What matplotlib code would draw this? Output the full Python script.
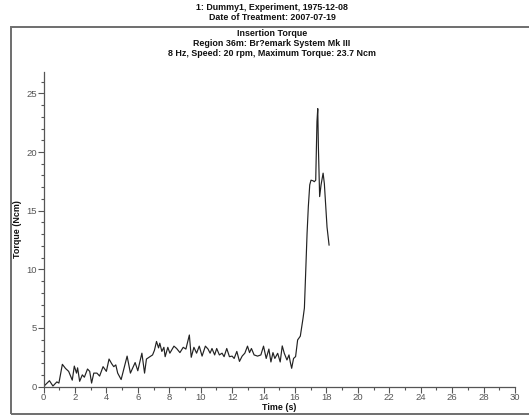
import matplotlib
matplotlib.use("Agg")
import matplotlib.pyplot as plt
from matplotlib.patches import Rectangle
from matplotlib.ticker import MultipleLocator

FONT = ['Liberation Sans', 'DejaVu Sans']
plt.rcParams['font.family'] = FONT

header_lines = ["1: Dummy1, Experiment, 1975-12-08", "Date of Treatment: 2007-07-19"]
title_lines = ["Insertion Torque", "Region 36m: Br?emark System Mk III",
               "8 Hz, Speed: 20 rpm, Maximum Torque: 23.7 Ncm"]
x_label = "Time (s)"
y_label = "Torque (Ncm)"

time_s = [0.0, 0.38, 0.6, 0.85, 0.98, 1.2, 1.4, 1.6, 1.83, 1.96, 2.1, 2.17, 2.3, 2.47, 2.6,
          2.8, 2.94, 3.06, 3.2, 3.4, 3.57, 3.79, 4.0, 4.17, 4.34, 4.47, 4.6, 4.72, 4.94,
          5.32, 5.53, 5.83, 6.0, 6.26, 6.43, 6.55, 6.77, 6.94, 7.06, 7.19, 7.32, 7.4,
          7.53, 7.66, 7.74, 7.91, 8.04, 8.3, 8.47, 8.68, 8.89, 9.06, 9.28, 9.4, 9.57,
          9.74, 9.91, 10.09, 10.3, 10.47, 10.6, 10.72, 10.89, 11.02, 11.19, 11.36,
          11.49, 11.66, 11.83, 12.0, 12.13, 12.3, 12.47, 12.64, 12.81, 12.98, 13.11,
          13.23, 13.4, 13.62, 13.83, 14.0, 14.17, 14.34, 14.47, 14.6, 14.72, 14.9,
          15.06, 15.19, 15.32, 15.49, 15.62, 15.7, 15.79, 15.91, 16.04, 16.17, 16.34,
          16.51, 16.6, 16.68, 16.77, 16.85, 16.94, 17.02, 17.15, 17.23, 17.32, 17.4,
          17.45, 17.49, 17.57, 17.66, 17.79, 17.87, 17.96, 18.04, 18.17]
torque_ncm = [0.0, 0.5, 0.05, 0.4, 0.3, 1.9, 1.55, 1.3, 0.55, 1.75, 1.15, 1.6, 0.45, 1.0, 0.8,
              1.5, 1.3, 0.3, 1.15, 1.15, 0.9, 1.7, 1.3, 2.35, 1.95, 1.7, 1.85, 1.15, 0.6,
              2.6, 1.15, 2.05, 1.35, 2.85, 1.15, 2.35, 2.55, 2.7, 3.1, 3.85, 3.3, 3.7,
              3.0, 3.35, 2.55, 3.35, 2.85, 3.45, 3.25, 2.9, 3.35, 3.2, 4.4, 2.5, 3.35,
              2.85, 3.45, 2.6, 3.45, 3.2, 2.85, 3.25, 2.7, 3.25, 2.7, 2.85,
              2.55, 3.25, 2.55, 2.6, 2.4, 3.0, 2.15, 2.6, 2.85, 3.45, 2.9,
              3.25, 2.7, 2.6, 2.7, 3.45, 2.4, 3.2, 2.1, 2.9, 2.4, 2.84,
              2.1, 3.47, 2.84, 2.27, 2.7, 2.1, 1.56, 2.4, 2.56, 3.98, 4.3,
              5.8, 6.7, 9.66, 13.07, 15.34, 17.2, 17.6, 17.55, 17.47, 17.6, 22.6,
              23.7, 20.45, 16.2, 17.2, 18.2, 17.3, 15.34, 13.6, 12.07]

W, H = 529, 416
fig = plt.figure(figsize=(W / 100, H / 100), dpi=100)
fig.patch.set_facecolor('white')

# outer frame
fig.patches.append(Rectangle((10.5 / W, 2 / H), 1.0, (414 - 27) / H,
                             transform=fig.transFigure, fill=False,
                             edgecolor='#6e6e6e', linewidth=1.4))

TS = 6.4
cx = 272 / W
fig.text(cx, 1 - 8 / H, header_lines[0], ha='center', va='center', fontsize=TS,
         fontweight='bold', color='#111111')
fig.text(cx, 1 - 18 / H, header_lines[1], ha='center', va='center', fontsize=TS,
         fontweight='bold', color='#111111')
for i, line in enumerate(title_lines):
    fig.text(cx, 1 - (33 + 10 * i) / H, line, ha='center', va='center', fontsize=TS,
             fontweight='bold', color='#111111')

ax = fig.add_axes([43.5 / W, (H - 386.6) / H, (515 - 43.5) / W, (386.6 - 71.7) / H])
ax.plot(time_s, torque_ncm, color='#222222', linewidth=0.85)
ax.set_xlim(0, 30)
ax.set_ylim(0, 26.85)
for s in ['top', 'right']:
    ax.spines[s].set_visible(False)
for s in ['left', 'bottom']:
    ax.spines[s].set_color('#555555')
    ax.spines[s].set_linewidth(0.9)
ax.xaxis.set_major_locator(MultipleLocator(2))
ax.xaxis.set_minor_locator(MultipleLocator(1))
ax.yaxis.set_major_locator(MultipleLocator(5))
ax.yaxis.set_minor_locator(MultipleLocator(1))
ax.tick_params(which='major', direction='out', length=4, width=0.8, color='#555555',
               labelsize=6.8, labelcolor='#555555', pad=0.5)
ax.tick_params(which='minor', direction='out', length=2, width=0.8, color='#555555')
ax.set_xlabel(x_label, fontsize=TS, fontweight='bold', color='#111111', labelpad=0.5)
ax.set_ylabel(y_label, fontsize=TS, fontweight='bold', color='#111111', labelpad=3.5)

fig.savefig('out.png', dpi=100)
